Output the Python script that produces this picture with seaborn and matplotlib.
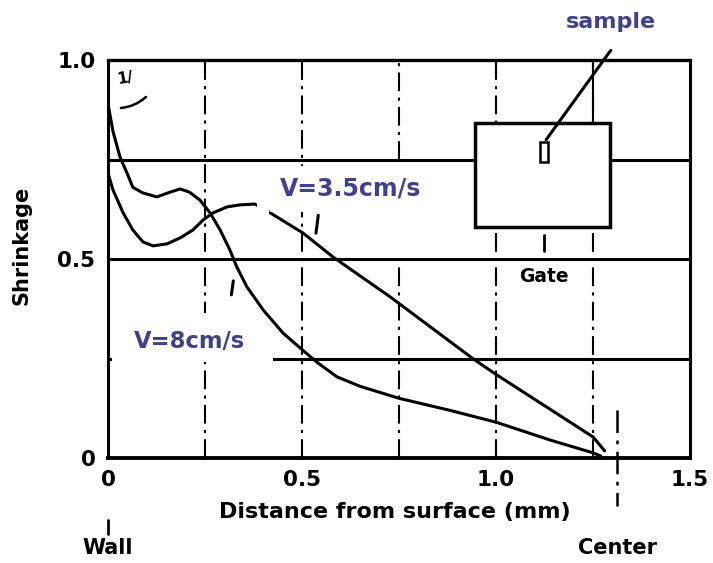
import matplotlib
matplotlib.use("Agg")
import matplotlib.pyplot as plt
import seaborn as sns
import pandas as pd
from matplotlib.patches import Rectangle

# ---- data ----
x_a = [0, 0.013, 0.031, 0.049, 0.064, 0.09, 0.126, 0.16, 0.186, 0.21, 0.237, 0.263,
       0.289, 0.314, 0.332, 0.358, 0.40, 0.451, 0.503, 0.538, 0.59, 0.65, 0.75, 0.88,
       1.0, 1.14, 1.25, 1.27]
y_a = [0.89, 0.82, 0.756, 0.716, 0.68, 0.666, 0.656, 0.668, 0.676, 0.668, 0.648, 0.616,
       0.573, 0.523, 0.48, 0.43, 0.372, 0.314, 0.27, 0.241, 0.204, 0.18, 0.15, 0.12,
       0.09, 0.045, 0.013, 0.005]
x_b = [0, 0.013, 0.039, 0.064, 0.09, 0.116, 0.152, 0.186, 0.219, 0.245, 0.271, 0.307,
       0.34, 0.379, 0.418, 0.503, 0.58, 0.727, 0.94, 1.0, 1.25, 1.28]
y_b = [0.716, 0.673, 0.616, 0.573, 0.543, 0.533, 0.538, 0.553, 0.573, 0.598, 0.616, 0.631,
       0.636, 0.638, 0.616, 0.565, 0.505, 0.405, 0.25, 0.21, 0.053, 0.018]
curve_names = ["A", "B"]
x_ticks = [0, 0.5, 1.0, 1.5]
x_tick_labels = ["0", "0.5", "1.0", "1.5"]
y_ticks = [0, 0.5, 1.0]
y_tick_labels = ["0", "0.5", "1.0"]
h_grid = [0.25, 0.5, 0.75]
v_grid = [0.25, 0.5, 1.0, 1.25]
label_fast = "V=8cm/s"
label_slow = "V=3.5cm/s"

df = pd.concat([
    pd.DataFrame({"x": x_a, "y": y_a, "curve": curve_names[0]}),
    pd.DataFrame({"x": x_b, "y": y_b, "curve": curve_names[1]}),
])

sns.set_style("white")
plt.rcParams["font.family"] = ["DejaVu Sans"]
plt.rcParams["text.color"] = "black"
plt.rcParams["axes.labelcolor"] = "black"
plt.rcParams["xtick.color"] = "black"
plt.rcParams["ytick.color"] = "black"

fig = plt.figure(figsize=(7.13, 5.63), dpi=100)
ax = fig.add_axes([108 / 713, 1 - 458 / 563, 582 / 713, 398 / 563])

dashdot = (0, (9, 3, 1.5, 3))
for g in h_grid:
    ax.axhline(g, color="black", lw=2.2, zorder=1)
for g in v_grid:
    ax.axvline(g, color="black", lw=1.5, ls=dashdot, zorder=1)
# the 0.75 vertical grid line is broken behind the V=3.5 label
ax.axvline(0.75, 0, 0.5, color="black", lw=1.5, ls=dashdot, zorder=1)
ax.axvline(0.75, 0.75, 1.0, color="black", lw=1.5, ls=dashdot, zorder=1)

# white background of the V=8 label (below the curves)
ax.add_patch(Rectangle((0.0103, 0.241), 0.415, 0.123, facecolor="white",
                       edgecolor="none", zorder=1.5))

sns.lineplot(data=df, x="x", y="y", hue="curve", palette=["black", "black"],
             estimator=None, sort=False, legend=False, lw=2.2, ax=ax, zorder=2)

# gap in the curve left of the V=3.5 label
ax.add_patch(Rectangle((0.385, 0.595), 0.03, 0.07, facecolor="white",
                       edgecolor="none", zorder=2.5))

ax.set_xlim(0, 1.5)
ax.set_ylim(0, 1.0)
ax.set_xticks(x_ticks)
ax.set_xticklabels(x_tick_labels)
ax.set_yticks(y_ticks)
ax.set_yticklabels(y_tick_labels)
ax.tick_params(length=0, pad=9, labelsize=15.5)
for t in ax.get_xticklabels() + ax.get_yticklabels():
    t.set_fontweight("bold")

for side, lw in [("left", 2.2), ("bottom", 2.8), ("top", 2.4), ("right", 2.2)]:
    ax.spines[side].set_visible(True)
    ax.spines[side].set_color("black")
    ax.spines[side].set_linewidth(lw)

ax.set_xlabel("Distance from surface (mm)", fontsize=16, fontweight="bold")
ax.set_ylabel("Shrinkage", fontsize=15, fontweight="bold")
ax.xaxis.set_label_coords(0.493, -0.11)
ax.yaxis.set_label_coords(-0.131, 0.535)

# gate / sample inset
ax.add_patch(Rectangle((0.946, 0.580), 0.348, 0.262, facecolor="white",
                       edgecolor="black", lw=2.5, zorder=3))
ax.add_patch(Rectangle((1.113, 0.744), 0.021, 0.05, facecolor="white",
                       edgecolor="black", lw=1.8, zorder=4))
ax.annotate("", xy=(1.125, 0.794), xytext=(1.30, 1.03),
            arrowprops=dict(arrowstyle="-", lw=2.2, color="black"),
            annotation_clip=False, zorder=4)
ax.plot([1.25, 1.25], [0.842, 1.0], color="black", lw=1.5, zorder=2)
ax.plot([1.124, 1.124], [0.52, 0.56], color="black", lw=2, zorder=4)
ax.text(1.124, 0.455, "Gate", fontsize=13.5, fontweight="bold", ha="center",
        va="center", zorder=4)

blue = "#3f418f"
ax.text(1.296, 1.095, "sample", fontsize=16, fontweight="bold", color=blue,
        ha="center", va="center", clip_on=False)
ax.text(0.626, 0.676, label_slow, fontsize=17, fontweight="bold", color=blue,
        ha="center", va="center", zorder=5,
        bbox=dict(boxstyle="square,pad=0.45", facecolor="white", edgecolor="none"))
ax.text(0.209, 0.293, label_fast, fontsize=16.4, fontweight="bold", color=blue,
        ha="center", va="center", zorder=5)

# small marks of the original scan
ax.text(0.045, 0.955, "1/", fontsize=11, fontweight="bold", ha="center",
        va="center", rotation=10)
ax.annotate("", xy=(0.026, 0.879), xytext=(0.103, 0.912),
            arrowprops=dict(arrowstyle="-", lw=1.8, color="black",
                            connectionstyle="arc3,rad=-0.2"))
ax.plot([0.536, 0.542], [0.565, 0.61], color="black", lw=2.2, zorder=4)
ax.plot([0.318, 0.323], [0.41, 0.445], color="black", lw=2.2, zorder=4)

# wall / center markers
ax.plot([0, 0], [-0.155, -0.19], color="black", lw=2, clip_on=False)
ax.text(0, -0.226, "Wall", fontsize=15, fontweight="bold", ha="center",
        va="center", clip_on=False)
ax.plot([1.312, 1.312], [0.12, -0.12], color="black", lw=1.8,
        ls=dashdot, clip_on=False)
ax.text(1.312, -0.226, "Center", fontsize=15, fontweight="bold", ha="center",
        va="center", clip_on=False)

fig.savefig("out.png", dpi=100)
